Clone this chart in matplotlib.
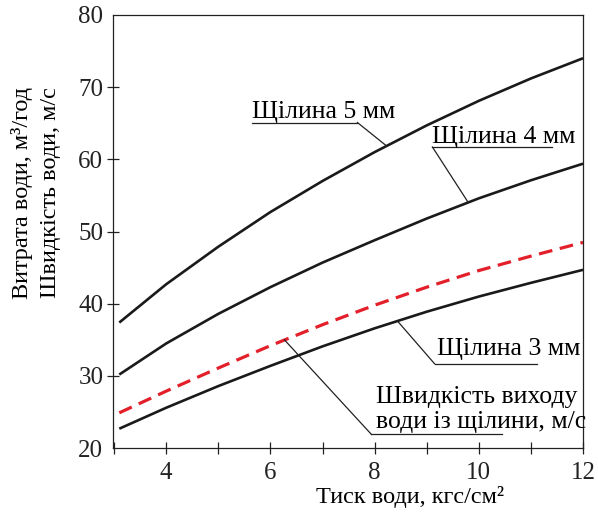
import matplotlib
matplotlib.use("Agg")
import matplotlib.pyplot as plt
from matplotlib.ticker import MultipleLocator

plt.rcParams['font.family'] = ['Liberation Serif', 'DejaVu Serif']

# тиск води, кгс/см2
pressure = [3.1, 4, 5, 6, 7, 8, 9, 10, 11, 12]
# витрата води для різних щілин, м3/год
slot5 = [37.4, 42.7, 47.9, 52.7, 57.0, 61.0, 64.7, 68.1, 71.2, 74.0]
slot4 = [30.2, 34.5, 38.6, 42.3, 45.7, 48.8, 51.8, 54.6, 57.1, 59.4]
slot3 = [22.7, 25.6, 28.6, 31.4, 34.1, 36.6, 38.9, 41.0, 42.9, 44.7]
# швидкість виходу води, м/с
speed = [24.9, 27.9, 31.1, 34.2, 37.1, 39.8, 42.3, 44.6, 46.6, 48.5]

xticks = [4, 6, 8, 10, 12]
yticks = [20, 30, 40, 50, 60, 70, 80]

fig = plt.figure(figsize=(5.98, 5.14), dpi=100)
ax = fig.add_axes([0.189, 0.128, 0.786, 0.843])

for s in (slot5, slot4, slot3):
    ax.plot(pressure, s, color='#1a1a1a', lw=1.9, solid_capstyle='butt')
ax.plot(pressure, speed, color='#e3202a', lw=2.3, dashes=(4.3, 2.4))

ax.set_xlim(2.98, 12)
ax.set_ylim(20, 80)
ax.set_xticks(xticks)
ax.set_yticks(yticks)
ax.xaxis.set_minor_locator(MultipleLocator(1))
ax.tick_params(axis='both', which='both', direction='inout', length=8, width=0.9,
               labelsize=18, colors='#222222')
ax.tick_params(axis='x', pad=6)
ax.tick_params(axis='y', pad=3)
ax.yaxis.get_major_ticks()[0].tick1line.set_visible(False)
ax.yaxis.get_major_ticks()[-1].tick1line.set_visible(False)
for sp in ax.spines.values():
    sp.set_linewidth(0.9)
    sp.set_color('#222222')

lc = '#222222'
fs = 18.5

# Щілина 5 мм
ax.plot([5.65, 7.67], [65.1, 65.1], color=lc, lw=0.9)
ax.plot([7.67, 8.23], [65.1, 61.85], color=lc, lw=0.9)
ax.text(5.65, 65.7, 'Щілина 5 мм', fontsize=fs, ha='left', va='baseline')

# Щілина 4 мм
ax.plot([9.11, 11.4], [61.7, 61.7], color=lc, lw=0.9)
ax.plot([9.11, 9.79], [61.7, 54.1], color=lc, lw=0.9)
ax.text(9.11, 62.3, 'Щілина 4 мм', fontsize=fs, ha='left', va='baseline')

# Щілина 3 мм
ax.plot([9.15, 11.11], [31.7, 31.7], color=lc, lw=0.9)
ax.plot([9.15, 8.44], [31.7, 37.6], color=lc, lw=0.9)
ax.text(9.19, 32.9, 'Щілина 3 мм', fontsize=fs, ha='left', va='baseline')

# швидкість виходу
ax.plot([7.94, 10.44], [21.9, 21.9], color=lc, lw=0.9)
ax.plot([7.94, 6.27], [21.9, 35.0], color=lc, lw=0.9)
ax.text(8.03, 26.3, 'Швидкість виходу', fontsize=fs, ha='left', va='baseline')
ax.text(8.03, 22.8, 'води із щілини, м/с', fontsize=fs, ha='left', va='baseline')

fig.text(0.686, 0.033, 'Тиск води, кгс/см²', fontsize=17.5, ha='center', va='center')
fig.text(0.037, 0.625, 'Витрата води, м³/год', fontsize=17.5, rotation=90,
         ha='center', va='center')
fig.text(0.084, 0.625, 'Швидкість води, м/с', fontsize=17.5, rotation=90,
         ha='center', va='center')

plt.savefig('out.png', dpi=100)
